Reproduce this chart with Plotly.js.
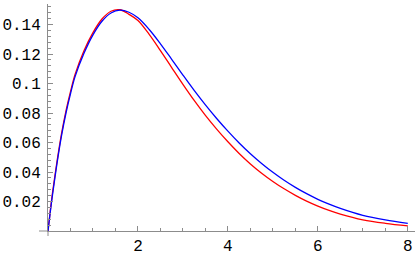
<!DOCTYPE html>
<html>
<head>
<meta charset="utf-8">
<script src="https://cdn.plot.ly/plotly-3.0.1.min.js"></script>
<style>html,body{margin:0;padding:0;background:#fff;}#plot{width:416px;height:257px;}</style>
</head>
<body>
<div id="plot"></div>
<script>
// Shared x positions where the curves were read
const xs = [0, 0.05, 0.1, 0.2, 0.3, 0.4, 0.5, 0.6, 0.8, 1.0, 1.2, 1.4, 1.6, 1.8, 2.0, 2.25, 2.5, 2.75, 3.0, 3.25, 3.5, 3.75, 4.0, 4.25, 4.5, 4.75, 5.0, 5.25, 5.5, 5.75, 6.0, 6.25, 6.5, 7.0, 7.5, 8.0];
// Blue curve
const blueY = [0, 0.0128, 0.0245, 0.0458, 0.0645, 0.0800, 0.0930, 0.1045, 0.1205, 0.1330, 0.1422, 0.1478, 0.1497, 0.1483, 0.1445, 0.1366, 0.1269, 0.1164, 0.1057, 0.0953, 0.0855, 0.0763, 0.0677, 0.0597, 0.0524, 0.0458, 0.0398, 0.0344, 0.0296, 0.0253, 0.0215, 0.0182, 0.0153, 0.0106, 0.0075, 0.0052];
// Red curve
const redY = [0, 0.0135, 0.0258, 0.0470, 0.0658, 0.0815, 0.0945, 0.1060, 0.1222, 0.1345, 0.1437, 0.1490, 0.1500, 0.1469, 0.1427, 0.1333, 0.1223, 0.1108, 0.0994, 0.0885, 0.0784, 0.0691, 0.0605, 0.0526, 0.0455, 0.0392, 0.0336, 0.0286, 0.0242, 0.0203, 0.0169, 0.0140, 0.0115, 0.0076, 0.0052, 0.0035];
// Tick labels
const xTickVals = [2, 4, 6, 8];
const xTickText = ["2", "4", "6", "8"];
const yTickVals = [0.02, 0.04, 0.06, 0.08, 0.10, 0.12, 0.14];
const yTickText = ["0.02", "0.04", "0.06", "0.08", "0.1", "0.12", "0.14"];

const traces = [
  {x: xs, y: redY, type: 'scatter', mode: 'lines', line: {color: '#ff0000', width: 1.3, shape: 'spline', smoothing: 1}, hoverinfo: 'skip'},
  {x: xs, y: blueY, type: 'scatter', mode: 'lines', line: {color: '#0000ff', width: 1.3, shape: 'spline', smoothing: 1}, hoverinfo: 'skip'}
];
const axisColor = '#8c8c8c';
const layout = {
  width: 416, height: 257,
  margin: {l: 48, r: 1, t: 4, b: 26, pad: 0},
  paper_bgcolor: '#ffffff', plot_bgcolor: '#ffffff',
  showlegend: false,
  font: {family: '"Liberation Mono", "Courier New", monospace', size: 16, color: '#000'},
  xaxis: {
    range: [0, 8.16], showgrid: false, zeroline: false,
    showline: true, linecolor: axisColor, linewidth: 1,
    ticks: 'inside', ticklen: 5, tickcolor: axisColor, tickwidth: 1,
    tickvals: xTickVals, ticktext: xTickText,
    minor: {dtick: 0.5, tick0: 0, ticks: 'inside', ticklen: 3, tickcolor: axisColor, showgrid: false}
  },
  yaxis: {
    range: [0, 0.1539], showgrid: false, zeroline: false,
    showline: true, linecolor: axisColor, linewidth: 1,
    ticks: 'inside', ticklen: 5, tickcolor: axisColor, tickwidth: 1,
    tickvals: yTickVals, ticktext: yTickText,
    minor: {dtick: 0.004, tick0: 0, ticks: 'inside', ticklen: 3, tickcolor: axisColor, showgrid: false},
    ticklabelstandoff: 3
  },
  shapes: [
    {type: 'line', xref: 'paper', yref: 'paper', x0: -9/367, x1: 0, y0: 0, y1: 0, line: {color: axisColor, width: 1}},
    {type: 'line', xref: 'paper', yref: 'paper', x0: 0, x1: 0, y0: -5/227, y1: 0, line: {color: axisColor, width: 1}}
  ]
};
Plotly.newPlot('plot', traces, layout, {staticPlot: true, displayModeBar: false});
</script>
</body>
</html>
